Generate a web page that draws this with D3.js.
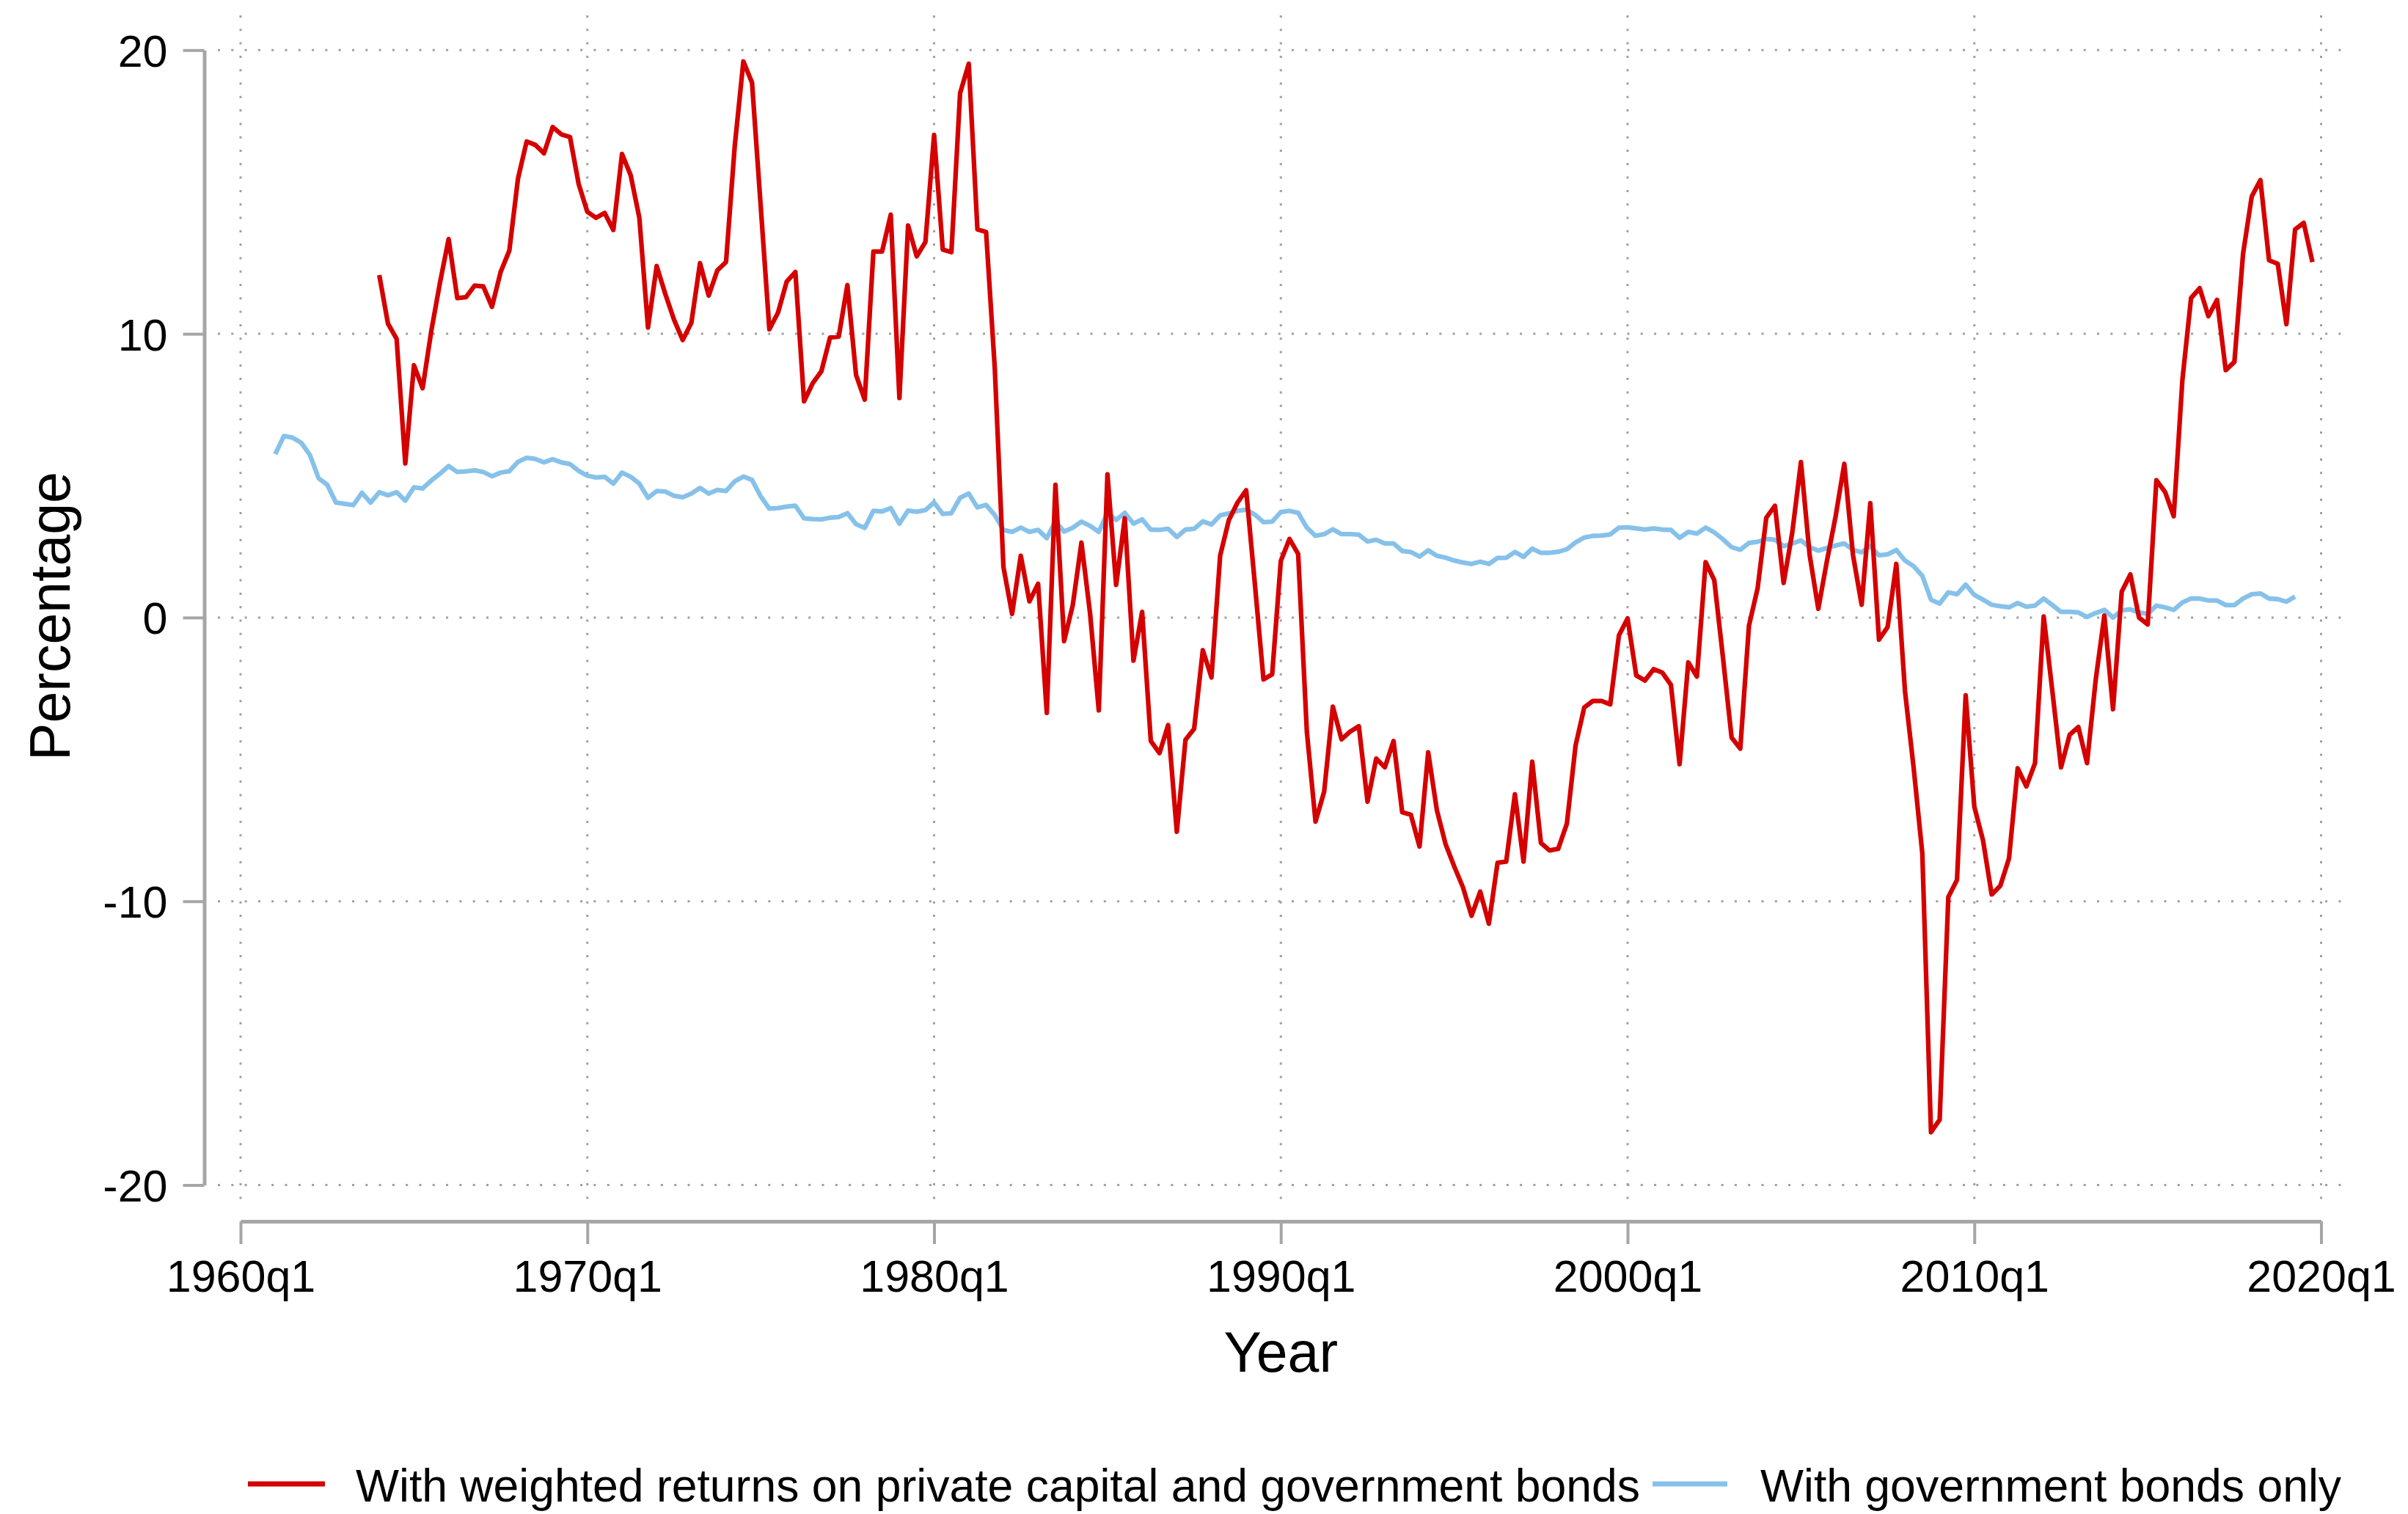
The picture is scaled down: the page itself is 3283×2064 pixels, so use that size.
<!DOCTYPE html>
<html>
<head>
<meta charset="utf-8">
<script src="https://cdn.jsdelivr.net/npm/d3@7"></script>
<style>
  body { margin: 0; background: #fff; }
  svg { display: block; font-family: "Liberation Sans", Arial, Helvetica, sans-serif; }
</style>
</head>
<body>
<svg id="chart" width="3283" height="2064"></svg>
<script>
// Quarterly series, first value belongs to the start quarter
var redStart = "1964q1";
var redValues = [
    12.07, 10.36, 9.82, 5.43, 8.89, 8.08, 10.1, 11.8, 13.34, 11.26, 11.29, 11.70,
    11.67, 10.95, 12.18, 12.93, 15.47, 16.78, 16.66, 16.36, 17.29, 17.03, 16.94, 15.28,
    14.30, 14.09, 14.26, 13.66, 16.34, 15.59, 14.09, 10.22, 12.39, 11.4, 10.5, 9.78,
    10.39, 12.49, 11.35, 12.24, 12.53, 16.6, 19.60, 18.85, 14.5, 10.16, 10.75, 11.84,
    12.18, 7.62, 8.26, 8.68, 9.87, 9.90, 11.72, 8.55, 7.68, 12.90, 12.90, 14.20,
    7.74, 13.82, 12.73, 13.24, 17.01, 12.97, 12.88, 18.48, 19.52, 13.68, 13.59, 8.8,
    1.78, 0.13, 2.18, 0.57, 1.19, -3.36, 4.68, -0.83, 0.44, 2.64, 0.13, -3.27,
    5.05, 1.15, 3.50, -1.52, 0.20, -4.35, -4.78, -3.79, -7.55, -4.31, -3.92, -1.15,
    -2.11, 2.18, 3.43, 4.05, 4.49, 1.2, -2.18, -2.00, 2.00, 2.77, 2.24, -4.02,
    -7.19, -6.13, -3.14, -4.29, -4.02, -3.83, -6.49, -4.97, -5.28, -4.35, -6.86, -6.95,
    -8.07, -4.75, -6.79, -7.98, -8.77, -9.50, -10.51, -9.66, -10.79, -8.64, -8.60, -6.23,
    -8.60, -5.08, -7.94, -8.21, -8.15, -7.26, -4.51, -3.17, -2.94, -2.94, -3.06, -0.63,
    -0.03, -2.04, -2.22, -1.82, -1.94, -2.37, -5.17, -1.58, -2.08, 1.95, 1.32, -1.4,
    -4.23, -4.62, -0.29, 1.03, 3.52, 3.94, 1.22, 3.0, 5.48, 2.21, 0.31, 2.0,
    3.57, 5.42, 2.21, 0.45, 4.03, -0.78, -0.33, 1.89, -2.59, -5.3, -8.31, -18.14,
    -17.70, -9.85, -9.25, -2.74, -6.67, -7.85, -9.76, -9.45, -8.49, -5.31, -5.95, -5.13,
    0.04, -2.59, -5.28, -4.13, -3.86, -5.13, -2.2, 0.07, -3.23, 0.91, 1.52, 0.00,
    -0.24, 4.84, 4.43, 3.57, 8.37, 11.26, 11.61, 10.62, 11.20, 8.72, 9.01, 12.82,
    14.84, 15.42, 12.59, 12.47, 10.34, 13.68, 13.91, 12.53
];

var blueStart = "1961q1";
var blueValues = [
    5.76, 6.40, 6.34, 6.16, 5.73, 4.91, 4.68, 4.05, 4.01, 3.96, 4.40, 4.05,
    4.42, 4.31, 4.42, 4.12, 4.59, 4.55, 4.83, 5.07, 5.34, 5.13, 5.15, 5.19,
    5.13, 4.98, 5.11, 5.16, 5.49, 5.63, 5.59, 5.47, 5.58, 5.47, 5.41, 5.17,
    5.00, 4.94, 4.96, 4.72, 5.11, 4.96, 4.72, 4.22, 4.46, 4.44, 4.29, 4.24,
    4.37, 4.57, 4.37, 4.50, 4.46, 4.80, 4.97, 4.85, 4.27, 3.84, 3.86, 3.91,
    3.94, 3.50, 3.47, 3.46, 3.52, 3.54, 3.68, 3.29, 3.16, 3.76, 3.74, 3.86,
    3.31, 3.77, 3.73, 3.79, 4.06, 3.65, 3.68, 4.22, 4.37, 3.88, 3.97, 3.61,
    3.09, 3.02, 3.17, 3.02, 3.09, 2.80, 3.39, 3.03, 3.17, 3.38, 3.23, 3.02,
    3.69, 3.44, 3.69, 3.31, 3.46, 3.10, 3.09, 3.13, 2.84, 3.10, 3.13, 3.39,
    3.28, 3.60, 3.67, 3.76, 3.80, 3.63, 3.36, 3.38, 3.72, 3.76, 3.69, 3.17,
    2.88, 2.94, 3.11, 2.94, 2.94, 2.92, 2.68, 2.74, 2.61, 2.61, 2.35, 2.31,
    2.15, 2.37, 2.18, 2.11, 2.01, 1.94, 1.89, 1.97, 1.89, 2.10, 2.11, 2.31,
    2.14, 2.43, 2.28, 2.28, 2.32, 2.41, 2.65, 2.82, 2.88, 2.89, 2.93, 3.17,
    3.18, 3.14, 3.10, 3.14, 3.10, 3.09, 2.81, 3.02, 2.96, 3.17, 3.00, 2.76,
    2.48, 2.39, 2.63, 2.67, 2.77, 2.74, 2.52, 2.61, 2.72, 2.48, 2.36, 2.45,
    2.54, 2.61, 2.39, 2.30, 2.52, 2.19, 2.23, 2.38, 2.01, 1.81, 1.47, 0.63,
    0.49, 0.89, 0.82, 1.16, 0.80, 0.63, 0.45, 0.40, 0.36, 0.51, 0.38, 0.42,
    0.67, 0.44, 0.20, 0.20, 0.18, 0.02, 0.16, 0.27, 0.00, 0.25, 0.29, 0.18,
    0.13, 0.42, 0.36, 0.27, 0.53, 0.67, 0.67, 0.60, 0.60, 0.44, 0.44, 0.67,
    0.82, 0.85, 0.67, 0.65, 0.56, 0.74
];

var xTickLabels = ["1960q1", "1970q1", "1980q1", "1990q1", "2000q1", "2010q1", "2020q1"];
var yTickValues = [-20, -10, 0, 10, 20];
var seriesNames = ["With weighted returns on private capital and government bonds", "With government bonds only"];
var seriesColors = ["#d50000", "#86c1ea"];
var xTitle = "Year";
var yTitle = "Percentage";

// "1964q1" -> running quarter number
function quarterIndex(label) {
    var parts = label.split("q");
    return (+parts[0]) * 4 + (+parts[1] - 1);
}

function toPoints(start, values) {
    var q0 = quarterIndex(start);
    return values.map(function(v, i) { return {q: q0 + i, v: v}; });
}

var series = [
    {name: seriesNames[0], color: seriesColors[0], points: toPoints(redStart, redValues)},
    {name: seriesNames[1], color: seriesColors[1], points: toPoints(blueStart, blueValues)}
];

var gridColor = "#a0a0a0";
var axisColor = "#a6a6a6";

var svg = d3.select("#chart");

var x = d3.scaleLinear()
    .domain([quarterIndex(xTickLabels[0]), quarterIndex(xTickLabels[xTickLabels.length - 1])])
    .range([328, 3164.5]);

var y = d3.scaleLinear()
    .domain([-20, 20])
    .range([1615.5, 68.3]);

// Plot region edges (gridlines run across it)
var plotLeft = 297, plotRight = 3205, plotTop = 21, plotBottom = 1646;

// Gridlines
var grid = svg.append("g").attr("class", "grid");

grid.selectAll("line.h")
    .data(yTickValues)
    .enter().append("line")
    .attr("class", "h")
    .attr("x1", plotLeft)
    .attr("x2", plotRight)
    .attr("y1", function(d) { return y(d); })
    .attr("y2", function(d) { return y(d); })
    .attr("stroke", gridColor)
    .attr("stroke-width", 3)
    .attr("stroke-dasharray", "3,15.3");

grid.selectAll("line.v")
    .data(xTickLabels)
    .enter().append("line")
    .attr("class", "v")
    .attr("x1", function(d) { return x(quarterIndex(d)); })
    .attr("x2", function(d) { return x(quarterIndex(d)); })
    .attr("y1", plotTop)
    .attr("y2", plotBottom)
    .attr("stroke", gridColor)
    .attr("stroke-width", 3)
    .attr("stroke-dasharray", "3,15.3");

// Axes
var yAxis = d3.axisLeft(y)
    .tickValues(yTickValues)
    .tickFormat(function(d) { return String(d); })
    .tickSizeInner(29)
    .tickSizeOuter(0)
    .tickPadding(21);

var gy = svg.append("g")
    .attr("transform", "translate(278.5,0)")
    .call(yAxis);

var xAxis = d3.axisBottom(x)
    .tickValues(xTickLabels.map(quarterIndex))
    .tickFormat(function(d, i) { return xTickLabels[i]; })
    .tickSizeInner(31)
    .tickSizeOuter(0)
    .tickPadding(22);

var gx = svg.append("g")
    .attr("transform", "translate(0,1665)")
    .call(xAxis);

[gx, gy].forEach(function(g) {
    g.attr("font-family", null).attr("font-size", null);
    g.select(".domain").attr("stroke", axisColor).attr("stroke-width", 5);
    g.selectAll(".tick line").attr("stroke", axisColor).attr("stroke-width", 4);
    g.selectAll(".tick text")
        .attr("fill", "#000")
        .style("font-size", "61px");
});
gy.selectAll(".tick text").attr("dy", "0.36em");
gx.selectAll(".tick text").attr("dy", "0.71em");

// Axis titles
svg.append("text")
    .attr("x", x(quarterIndex("1990q1")))
    .attr("y", 1870)
    .attr("text-anchor", "middle")
    .style("font-size", "77px")
    .text(xTitle);

svg.append("text")
    .attr("transform", "translate(95,840) rotate(-90)")
    .attr("text-anchor", "middle")
    .style("font-size", "77px")
    .text(yTitle);

// Lines
var line = d3.line()
    .x(function(d) { return x(d.q); })
    .y(function(d) { return y(d.v); });

svg.append("g")
    .selectAll("path")
    .data(series.slice().reverse())
    .enter().append("path")
    .attr("d", function(d) { return line(d.points); })
    .attr("fill", "none")
    .attr("stroke", function(d) { return d.color; })
    .attr("stroke-width", 6.3)
    .attr("stroke-linejoin", "round");

// Legend
var legendPos = [{x1: 338, x2: 443, tx: 485}, {x1: 2253, x2: 2355, tx: 2400}];
var legend = svg.append("g")
    .selectAll("g")
    .data(series)
    .enter().append("g");

legend.append("line")
    .attr("x1", function(d, i) { return legendPos[i].x1; })
    .attr("x2", function(d, i) { return legendPos[i].x2; })
    .attr("y1", 2023)
    .attr("y2", 2023)
    .attr("stroke", function(d) { return d.color; })
    .attr("stroke-width", 7);

legend.append("text")
    .attr("x", function(d, i) { return legendPos[i].tx; })
    .attr("y", 2047)
    .style("font-size", "62.5px")
    .text(function(d) { return d.name; });
</script>
</body>
</html>
